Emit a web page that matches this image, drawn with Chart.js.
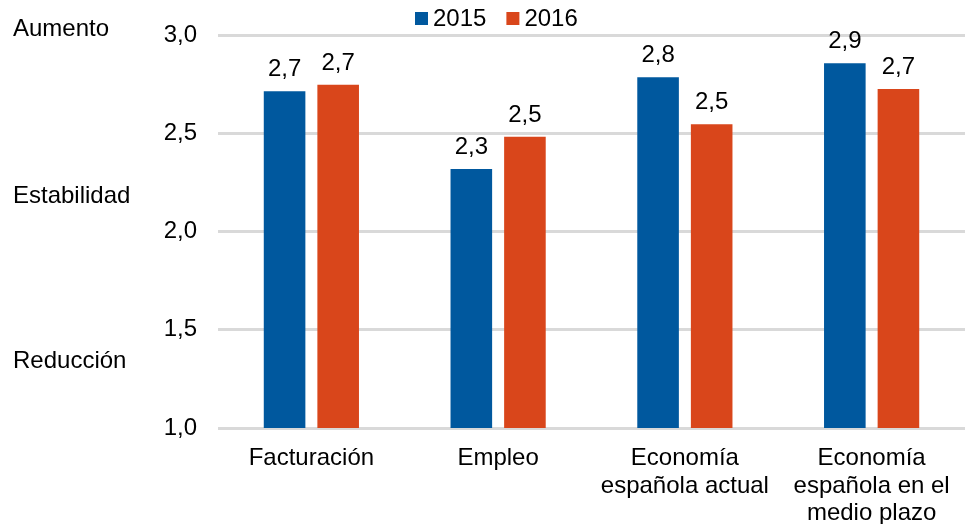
<!DOCTYPE html>
<html>
<head>
<meta charset="utf-8">
<script src="https://cdn.jsdelivr.net/npm/chart.js@4.4.1/dist/chart.umd.min.js"></script>
<style>
    html, body { margin: 0; padding: 0; background: #fff; }
    #wrap { width: 965px; height: 524px; position: relative; }
</style>
</head>
<body>
<div id="wrap"><canvas id="chart"></canvas></div>
<script>
(function () {
    "use strict";

    var categories = [
        ["Facturación"],
        ["Empleo"],
        ["Economía", "española actual"],
        ["Economía", "española en el", "medio plazo"]
    ];
    var seriesNames = ["2015", "2016"];
    var values2015 = [2.715, 2.32, 2.787, 2.858];
    var values2016 = [2.748, 2.484, 2.548, 2.727];
    var seriesColors = ["#00589E", "#D9461B"];
    var yTicks = [1.0, 1.5, 2.0, 2.5, 3.0];
    var sideLabels = ["Aumento", "Estabilidad", "Reducción"];
    var sideLabelValues = [3.03, 2.18, 1.34];

    var FONT = "'Liberation Sans', Arial, sans-serif";
    var FONT_SIZE = 24;

    function formatValue(v) {
        return v.toFixed(1).replace(".", ",");
    }

    var valueLabels = {
        id: "valueLabels",
        afterDatasetsDraw: function (chart) {
            var ctx = chart.ctx;
            ctx.save();
            ctx.font = FONT_SIZE + "px " + FONT;
            ctx.fillStyle = "#000";
            ctx.textAlign = "center";
            ctx.textBaseline = "alphabetic";
            chart.data.datasets.forEach(function (ds, i) {
                chart.getDatasetMeta(i).data.forEach(function (bar, j) {
                    ctx.fillText(formatValue(ds.data[j]), bar.x, bar.y - 15);
                });
            });
            ctx.restore();
        }
    };

    var sideText = {
        id: "sideText",
        afterDraw: function (chart) {
            var ctx = chart.ctx;
            var y = chart.scales.y;
            ctx.save();
            ctx.font = FONT_SIZE + "px " + FONT;
            ctx.fillStyle = "#000";
            ctx.textAlign = "left";
            ctx.textBaseline = "middle";
            sideLabels.forEach(function (txt, i) {
                ctx.fillText(txt, 13, y.getPixelForValue(sideLabelValues[i]));
            });
            ctx.restore();
        }
    };

    var topLegend = {
        id: "topLegend",
        afterDraw: function (chart) {
            var ctx = chart.ctx;
            var x = 415;
            ctx.save();
            ctx.font = FONT_SIZE + "px " + FONT;
            ctx.textBaseline = "middle";
            ctx.textAlign = "left";
            chart.data.datasets.forEach(function (ds) {
                ctx.fillStyle = ds.backgroundColor;
                ctx.fillRect(x, 12, 13, 13);
                ctx.fillStyle = "#000";
                ctx.fillText(ds.label, x + 18, 19);
                x += 18 + ctx.measureText(ds.label).width + 20;
            });
            ctx.restore();
        }
    };

    new Chart(document.getElementById("chart").getContext("2d"), {
        type: "bar",
        data: {
            labels: categories,
            datasets: [
                {
                    label: seriesNames[0],
                    data: values2015,
                    backgroundColor: seriesColors[0],
                    borderWidth: 0,
                    barPercentage: 0.776,
                    categoryPercentage: 0.574
                },
                {
                    label: seriesNames[1],
                    data: values2016,
                    backgroundColor: seriesColors[1],
                    borderWidth: 0,
                    barPercentage: 0.776,
                    categoryPercentage: 0.574
                }
            ]
        },
        options: {
            responsive: true,
            maintainAspectRatio: false,
            animation: false,
            events: [],
            layout: {
                padding: { top: 33, right: 0, bottom: 0, left: 0 }
            },
            plugins: {
                legend: { display: false },
                tooltip: { enabled: false }
            },
            scales: {
                x: {
                    afterFit: function (scale) {
                        scale.height = 96;
                    },
                    grid: { display: false },
                    border: { display: false },
                    ticks: {
                        color: "#000",
                        padding: 9,
                        maxRotation: 0,
                        autoSkip: false,
                        font: { family: FONT, size: FONT_SIZE, lineHeight: 1.146 }
                    }
                },
                y: {
                    min: 1,
                    max: 3,
                    afterBuildTicks: function (scale) {
                        scale.ticks = yTicks.map(function (v) {
                            return { value: v };
                        });
                    },
                    afterFit: function (scale) {
                        scale.width = 218;
                    },
                    grid: {
                        color: "#D9D9D9",
                        lineWidth: 3,
                        drawTicks: false
                    },
                    border: { display: false },
                    ticks: {
                        color: "#000",
                        padding: 21,
                        font: { family: FONT, size: FONT_SIZE },
                        callback: function (v) {
                            return formatValue(v);
                        }
                    }
                }
            }
        },
        plugins: [valueLabels, sideText, topLegend]
    });
})();
</script>
</body>
</html>
